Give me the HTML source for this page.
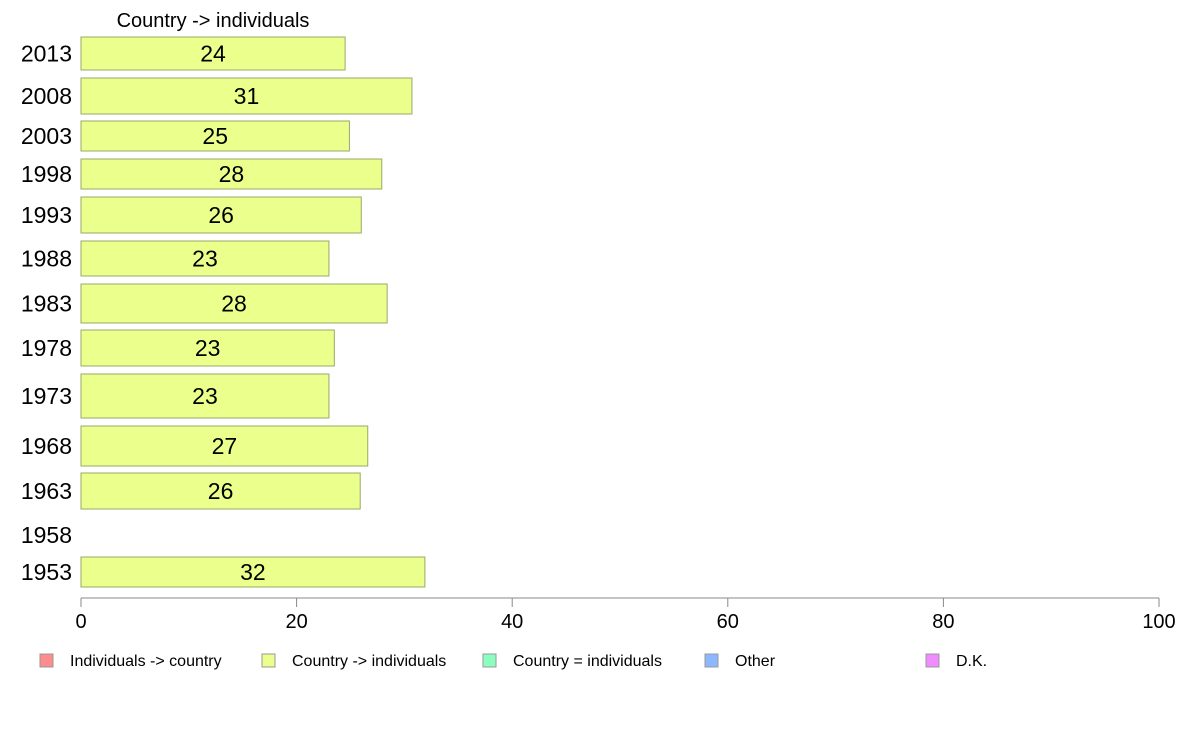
<!DOCTYPE html>
<html><head><meta charset="utf-8"><style>
body{margin:0;background:#fff;font-family:"Liberation Sans",sans-serif}
svg{display:block}
</style></head><body>
<svg id="chart" width="1188" height="736" viewBox="0 0 1188 736" font-family="Liberation Sans, sans-serif">
<text x="213" y="27" font-size="20" text-anchor="middle">Country -&gt; individuals</text>
<g id="bars"></g>
<g id="axis"></g>
<g id="legend"></g>
</svg>
<script>
const years = ["2013","2008","2003","1998","1993","1988","1983","1978","1973","1968","1963","1958","1953"];
const values = [24.5,30.7,24.9,27.9,26.0,23.0,28.4,23.5,23.0,26.6,25.9,null,31.9];
const labels = ["24","31","25","28","26","23","28","23","23","27","26","","32"];
const ticks = [0,20,40,60,80,100];
const legendNames = ["Individuals -> country","Country -> individuals","Country = individuals","Other","D.K."];
const legendColors = ["#ff8c8c","#ebff8c","#8cffbe","#8cb8ff","#f08cff"];
// layout (band geometry)
const bandTop = [37,78,121,159,197,241,284,330,374,426,473,520,557];
const bandH = [33,36,30,30,36,35,39,36,44,40,36,30,30];
const ns="http://www.w3.org/2000/svg";
const x0=81, x1=1159;
const xs=v=>x0+(v/100)*(x1-x0);
function mk(t,a,p){const e=document.createElementNS(ns,t);for(const k in a)e.setAttribute(k,a[k]);p.appendChild(e);return e;}
const bars=document.getElementById('bars');
years.forEach((y,i)=>{
  const cy=bandTop[i]+bandH[i]/2;
  const yl=mk('text',{x:72,y:cy+8,'font-size':23,'text-anchor':'end'},bars);
  
  
  yl.textContent=y;
  if(values[i]==null)return;
  const r=mk('rect',{x:x0,y:bandTop[i],width:xs(values[i])-x0,height:bandH[i],fill:'#ebff8c',stroke:'#9aa86a','stroke-width':1},bars);
  
  
  const t=mk('text',{x:(x0+xs(values[i]))/2,y:cy+8,'font-size':23,'text-anchor':'middle'},bars);
  
  
  t.textContent=labels[i];
});
const ax=document.getElementById('axis');
const al=mk('line',{x1:x0,x2:x1,y1:598,y2:598,stroke:'#888'},ax);


ticks.forEach(v=>{
  const l=mk('line',{x1:xs(v),x2:xs(v),y1:598,y2:607,stroke:'#888'},ax);
  
  
  const t=mk('text',{x:xs(v),y:628,'font-size':20,'text-anchor':'middle'},ax);
  
  
  t.textContent=v;
});
const lg=document.getElementById('legend');
const lx=[40,262,483,705,926];
legendNames.forEach((n,i)=>{
  const r=mk('rect',{x:lx[i],y:654,width:13,height:13,fill:legendColors[i],stroke:'#999'},lg);
  
  
  const t=mk('text',{x:lx[i]+30,y:666,'font-size':16},lg);
  
  
  t.textContent=n;
});
</script>
</body></html>
